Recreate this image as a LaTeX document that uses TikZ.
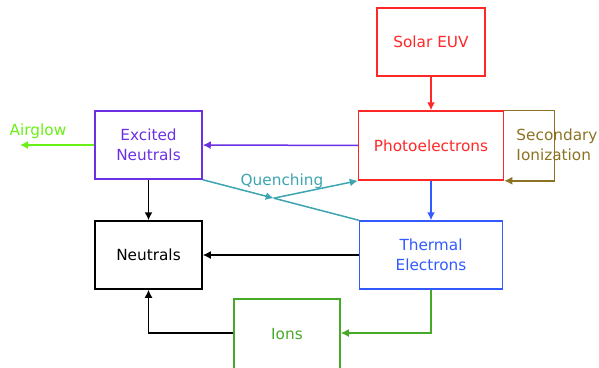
\documentclass[tikz,border=0pt]{standalone}
\usepackage{fontspec}
\setmainfont{DejaVu Sans}
\usetikzlibrary{arrows.meta,calc}
\definecolor{euvred}{RGB}{255,40,40}
\definecolor{exviolet}{RGB}{108,48,228}
\definecolor{glowgreen}{RGB}{105,240,20}
\definecolor{ionolive}{RGB}{140,115,35}
\definecolor{quenchteal}{RGB}{60,165,175}
\definecolor{thblue}{RGB}{50,90,255}
\definecolor{iongreen}{RGB}{70,170,40}

\begin{document}
\begin{tikzpicture}[x=1pt,y=-1pt,font=\fontsize{15.3}{20}\selectfont,line width=1.5pt,
  box/.style={draw,align=center,inner sep=0pt,minimum width=107pt,minimum height=68pt},
  >={Latex[length=8pt,width=8pt]}]
\useasboundingbox (0,0) rectangle (599,367);
\node[box,euvred,minimum width=108pt] (euv) at (431,42) {Solar EUV};
\node[box,euvred,minimum width=145pt,minimum height=69pt] (photo) at (431,145.5) {Photoelectrons};
\node[box,exviolet] (excited) at (148.5,145) {Excited\\Neutrals};
\node[box,black] (neutrals) at (148.5,255) {Neutrals};
\node[box,thblue,minimum width=143pt] (thermal) at (431,255) {Thermal\\Electrons};
\node[box,iongreen,minimum width=106pt,minimum height=70pt] (ions) at (287,334) {Ions};
\node[ionolive,align=left] (second) at (557,145) {Secondary\\Ionization};
\node[glowgreen] (airglow) at (38,131) {Airglow};
\node[quenchteal] (quenching) at (282,181) {Quenching};
\coordinate (glow) at (20,145);
\coordinate (q) at ($(excited.south east)!0.455!(thermal.north west)$);
\draw[->,euvred] (euv) -- (photo);
\draw[->,exviolet] (photo) -- (excited);
\draw[->,glowgreen] (excited) -- (glow);
\draw[->,ionolive] (photo.north east) -- ++(50,0) |- (photo.south east);
\draw[->,black] (excited) -- (neutrals);
\draw[->,thblue] (photo) -- (thermal);
\draw[->,black] (thermal) -- (neutrals);
\draw[->,iongreen] (thermal.south) |- ([yshift=1pt]ions.east);
\draw[->,black] ([yshift=1pt]ions.west) -| (neutrals.south);
\draw[->,quenchteal] (excited.south east) -- (q);
\draw[quenchteal] (thermal.north west) -- (q);
\draw[->,quenchteal] (q) -- (photo.south west);
\end{tikzpicture}
\end{document}
